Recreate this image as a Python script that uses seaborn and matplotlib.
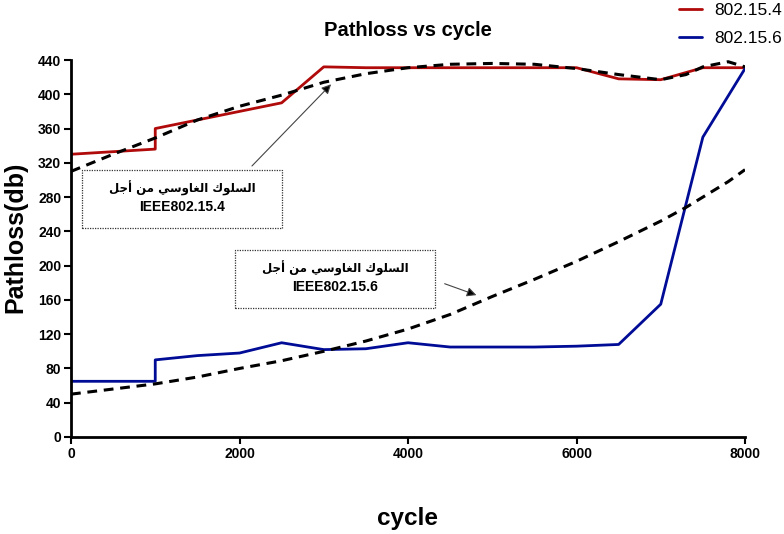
import numpy as np
import pandas as pd
import matplotlib
matplotlib.use("Agg")
import matplotlib.pyplot as plt
import seaborn as sns
from matplotlib.patches import Rectangle

# data
cycle_a = [0, 1000, 1000, 1500, 2000, 2500, 3000, 3500, 4000, 4500, 5000, 5500, 6000, 6500, 7000, 7500, 8000]
loss_154 = [330, 336, 360, 370, 380, 390, 432, 431, 431, 431, 431, 431, 431, 418, 417, 431, 431]
loss_156 = [65, 65, 90, 95, 98, 110, 102, 103, 110, 105, 105, 105, 106, 108, 155, 350, 430]

cycle_fit = [0, 500, 1000, 1500, 2000, 2500, 3000, 3500, 4000, 4500, 5000, 5500, 6000, 6500, 7000, 7300, 7500, 7800, 8000]
fit_154 = [310, 330, 349, 370, 386, 399, 414, 424, 431, 435, 436, 435, 430, 423, 417, 423, 432, 438, 432]
fit_156 = [50, 56, 62, 70, 80, 89, 100, 112, 126, 143, 164, 184, 205, 228, 252, 268, 280, 298, 312]

label_154 = "802.15.4"
label_156 = "802.15.6"
note_ar = "السلوك الغاوسي من أجل"
note_154 = "IEEE802.15.4"
note_156 = "IEEE802.15.6"

# tiny arabic shaper (matplotlib has no shaping / bidi)
FORMS = {  # isolated, final, initial, medial
    'ا': ('\uFE8D', '\uFE8E', None, None),
    'أ': ('\uFE83', '\uFE84', None, None),
    'و': ('\uFEED', '\uFEEE', None, None),
    'ل': ('\uFEDD', '\uFEDE', '\uFEDF', '\uFEE0'),
    'س': ('\uFEB1', '\uFEB2', '\uFEB3', '\uFEB4'),
    'ك': ('\uFED9', '\uFEDA', '\uFEDB', '\uFEDC'),
    'غ': ('\uFECD', '\uFECE', '\uFECF', '\uFED0'),
    'ي': ('\uFEF1', '\uFEF2', '\uFEF3', '\uFEF4'),
    'م': ('\uFEE1', '\uFEE2', '\uFEE3', '\uFEE4'),
    'ن': ('\uFEE5', '\uFEE6', '\uFEE7', '\uFEE8'),
    'ج': ('\uFE9D', '\uFE9E', '\uFE9F', '\uFEA0'),
}


def shape_word(w):
    out = []
    for i, ch in enumerate(w):
        f = FORMS[ch]
        jp = i > 0 and FORMS[w[i - 1]][2] is not None
        jn = i < len(w) - 1 and f[2] is not None
        if jp and jn:
            out.append(f[3])
        elif jp:
            out.append(f[1])
        elif jn:
            out.append(f[2])
        else:
            out.append(f[0])
    return "".join(reversed(out))


def shape(s):
    return " ".join(shape_word(w) for w in reversed(s.split(" ")))


sns.set_theme(style="ticks")
plt.rcParams['font.family'] = ['Liberation Sans', 'DejaVu Sans']
plt.rcParams.update({"text.color": "black", "axes.labelcolor": "black",
                     "xtick.color": "black", "ytick.color": "black"})

fig = plt.figure(figsize=(7.84, 5.34), dpi=100)
ax = fig.add_axes([71 / 784, 1 - 437 / 534, 674 / 784, 377 / 534])

red = "#B00A0A"
blue = "#000C96"

sns.lineplot(x=cycle_a, y=loss_154, ax=ax, color=red, lw=2.0, estimator=None, sort=False, label=label_154)
sns.lineplot(x=cycle_a, y=loss_156, ax=ax, color=blue, lw=2.0, estimator=None, sort=False, label=label_156)
ax.plot(cycle_fit, fit_154, color="black", lw=2.2, dashes=(3.2, 2.2))
ax.plot(cycle_fit, fit_156, color="black", lw=2.2, dashes=(3.2, 2.2))

ax.set_xlim(0, 8000)
ax.set_ylim(0, 440)
ax.set_xticks(np.arange(0, 8001, 2000))
ax.set_yticks(np.arange(0, 441, 40))
for lab in ax.get_xticklabels() + ax.get_yticklabels():
    lab.set_fontweight("bold")
    lab.set_fontsize(10)
ax.tick_params(direction="out", length=5, width=1.5, color="black", pad=2)
for s in ["left", "bottom"]:
    ax.spines[s].set_linewidth(2)
    ax.spines[s].set_color("black")
sns.despine(ax=ax)

ax.set_title("Pathloss vs cycle", fontsize=14.5, fontweight="bold", pad=17)
ax.set_xlabel("cycle", fontsize=17.5, fontweight="bold", labelpad=33)
ax.set_ylabel("Pathloss(db)", fontsize=18, fontweight="bold")
ax.yaxis.set_label_coords(-0.064, 0.53)

# annotation boxes
boxes = [((131, 244), 2373, 67.5, note_154, 1318, (290.5, 268)),
         ((1947, 150.5), 2373, 67.5, note_156, 3134, (197, 175))]
for (x0, y0), w, h, note, cx, (y1, y2) in boxes:
    ax.add_patch(Rectangle((x0, y0), w, h, fill=False, ec="#333333", lw=0.9, ls=(0, (1, 1))))
    ax.text(cx, y1, shape(note_ar), ha="center", va="center", fontsize=8.5, fontweight="bold",
            family=['DejaVu Sans'])
    ax.text(cx, y2, note, ha="center", va="center", fontsize=10, fontweight="bold")

ax.annotate("", xy=(3110, 414), xytext=(2125, 314),
            arrowprops=dict(arrowstyle="-|>", color="#444444", lw=0.8, mutation_scale=14, fc="black"))
ax.annotate("", xy=(4843, 164.5), xytext=(4404, 180),
            arrowprops=dict(arrowstyle="-|>", color="#444444", lw=0.8, mutation_scale=14, fc="black"))

handles, labels = ax.get_legend_handles_labels()
ax.get_legend().remove()
fig.legend(handles, labels, loc="upper left", bbox_to_anchor=(679 / 784, 1 - 3 / 534),
           frameon=False, fontsize=12.5, handlelength=1.32, handletextpad=0.7,
           labelspacing=0.72, borderpad=0, borderaxespad=0)

fig.savefig("out.png", dpi=100)
